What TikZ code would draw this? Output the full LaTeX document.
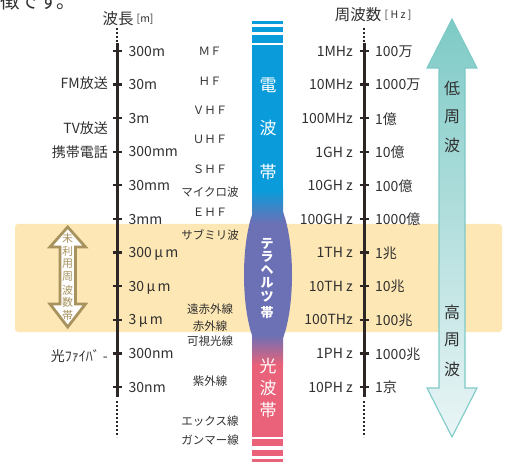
\documentclass[tikz,border=0pt]{standalone}
\usepackage{fontspec}
\setmainfont{Noto Sans CJK JP}
\usetikzlibrary{calc}
\definecolor{txt}{HTML}{303030}
\definecolor{axiscol}{HTML}{2C2624}
\definecolor{wblue}{HTML}{0A9CDA}
\definecolor{wpurple}{HTML}{6C70B5}
\definecolor{wpink}{HTML}{EA6279}
\definecolor{bandcol}{HTML}{FDE7B4}
\definecolor{khaki}{HTML}{A8935E}
\definecolor{tealc}{HTML}{7ECAC6}
\definecolor{tealpale}{HTML}{EAF5F6}
\begin{document}
\begin{tikzpicture}[x=1pt,y=-1pt,
  lab/.style={text=txt, inner sep=0pt, text depth=0pt, font=\fontsize{14}{14}\selectfont},
  bandlab/.style={text=txt, inner sep=0pt, text depth=0pt, font=\fontsize{11.5}{11.5}\selectfont},
  axisline/.style={draw=axiscol, line width=3pt},
  dotline/.style={draw=axiscol, line width=1.2pt, dash pattern=on 2pt off 2pt},
  tickmark/.style={draw=axiscol, line width=2.2pt},
  whitechar/.style={text=white, inner sep=0pt, font=\fontsize{17}{17}\selectfont},
  thzchar/.style={text=white, inner sep=0pt, font=\fontsize{13}{13}\selectfont\bfseries},
  khakichar/.style={text=khaki, inner sep=0pt, font=\fontsize{11}{11}\selectfont},
  darkchar/.style={text=txt, inner sep=0pt, font=\fontsize{16}{16}\selectfont},
  head/.style={text=txt, inner sep=0pt, font=\fontsize{15.5}{15.5}\selectfont},
  unit/.style={text=txt, inner sep=0pt, font=\fontsize{10.5}{10.5}\selectfont}
]
\useasboundingbox (0,0) rectangle (511,462);
\clip (0,0) rectangle (511,462);

% cropped running text at the top
\node[anchor=base west, inner sep=0pt, text=txt, font=\fontsize{19.5}{19.5}\selectfont] (toptext) at (0,8.5) {徴です。};

% unused-band background
\fill[bandcol, rounded corners=3pt] (15,224) rectangle (502,332);

% khaki double arrow
\draw[khaki, line width=2.8pt, fill=white, line join=miter]
  (67.7,227) -- (85.5,247) -- (75.5,247) -- (75.5,304) -- (85.5,304) -- (67.7,327)
  -- (50,304) -- (60,304) -- (60,247) -- (50,247) -- cycle;
\foreach \c/\y [count=\k] in {未/238,利/251,用/264,周/277,波/290,数/302,帯/315}
  \node[khakichar] (kh\k) at (67.7,\y) {\c};

% wavelength axis
\coordinate (wa0) at (117,28); \coordinate (wa1) at (117,42);
\coordinate (wa2) at (117,43); \coordinate (wa3) at (117,397);
\coordinate (wa4) at (117,401); \coordinate (wa5) at (117,437);
\draw[dotline] (wa0) -- (wa1);
\draw[axisline] (wa2) -- (wa3);
\draw[dotline] (wa4) -- (wa5);
% frequency axis
\coordinate (fa0) at (364,28); \coordinate (fa1) at (364,42);
\coordinate (fa2) at (364,43); \coordinate (fa3) at (364,397);
\coordinate (fa4) at (364,401); \coordinate (fa5) at (364,437);
\draw[dotline] (fa0) -- (fa1);
\draw[axisline] (fa2) -- (fa3);
\draw[dotline] (fa4) -- (fa5);

\foreach \wl/\fl/\fr [count=\i from 0] in
  {300m/1MHz/100万, 30m/10MHz/1000万, 3m/100MHz/1億, 300mm/1GH z/10億,
   30mm/10GH z/100億, 3mm/100GH z/1000億, 300\,μ\,m/1TH z/1兆, 30\,μ\,m/10TH z/10兆,
   3\,μ\,m/100THz/100兆, 300nm/1PH z/1000兆, 30nm/10PH z/1京}
{
  \pgfmathsetmacro{\yy}{51+33.6*\i}
  \coordinate (wtl\i) at (112.5,\yy); \coordinate (wtr\i) at (121.5,\yy);
  \coordinate (ftl\i) at (359.5,\yy); \coordinate (ftr\i) at (368.5,\yy);
  \draw[tickmark] (wtl\i) -- (wtr\i);
  \draw[tickmark] (ftl\i) -- (ftr\i);
  \node[lab, anchor=west] (wl\i) at (128.5,\yy) {\wl};
  \node[lab, anchor=east] (fl\i) at (353,\yy) {\fl};
  \node[lab, anchor=west] (fr\i) at (375,\yy) {\fr};
}

% headers
\node[head] (hwl) at (118,19) {波長};
\node[unit, anchor=west] (hwlu) at (136.5,19.5) {[m]};
\node[head] (hfq) at (358,14.5) {周波数};
\node[unit, anchor=west] (hfqu) at (384.5,15) {[ H z ]};

% left labels
\node[lab, anchor=east] (fm) at (108,83) {FM放送};
\node[lab, anchor=east] (tv) at (108,128) {TV放送};
\node[lab, anchor=east] (kt) at (108,152) {携帯電話};
\node[lab, anchor=east] (hf) at (108,356) {光ﾌｧｲﾊﾞ -};

% band names
\foreach \t/\y [count=\k] in {ＭＦ/51, ＨＦ/81, ＶＨＦ/110.5, ＵＨＦ/139.5, ＳＨＦ/169.5, マイクロ波/192,
   ＥＨＦ/212.5, サブミリ波/235, 遠赤外線/309, 赤外線/326, 可視光線/341, 紫外線/381,
   エックス線/421, ガンマー線/440}
  \node[bandlab] (bn\k) at (210,\y) {\t};

% terahertz ellipse (under the bar)
\fill[wpurple] (268,275) ellipse (24 and 81);

% wave bar
\fill[wblue] (252,21) rectangle (283,24);
\fill[wblue] (252,27) rectangle (283,32);
\fill[wblue] (252,35) rectangle (283,43);
\fill[wblue] (252,45) rectangle (283,191);
\shade[top color=wblue, bottom color=wpurple] (252,190) rectangle (283,224);
\fill[wpurple] (252,223) rectangle (283,336);
\shade[top color=wpurple, bottom color=wpink] (252,335) rectangle (283,365);
\fill[wpink] (252,364) rectangle (283,437);
\fill[wpink] (252,439) rectangle (283,446);
\fill[wpink] (252,450) rectangle (283,456);
\fill[wpink] (252,459) rectangle (283,463);

\foreach \c/\y [count=\k] in {電/85, 波/128, 帯/172}
  \node[whitechar] (dp\k) at (268,\y) {\c};
\foreach \c/\y [count=\k] in {光/366, 波/388, 帯/410}
  \node[whitechar] (kp\k) at (268,\y) {\c};
\foreach \c/\y [count=\k] in {テ/244, ラ/257, ヘ/270, ル/283, ツ/297, 帯/313}
  \node[thzchar] (th\k) at (267,\y) {\c};

% frequency direction arrow
\draw[draw=tealc, line width=1.1pt, top color=tealc, bottom color=tealpale, line join=miter]
  (452,19) -- (477,68) -- (465,68) -- (465,388) -- (477,388) -- (452,437)
  -- (427,388) -- (439,388) -- (439,68) -- (427,68) -- cycle;
\foreach \c/\y [count=\k] in {低/88, 周/117, 波/145}
  \node[darkchar] (lo\k) at (452,\y) {\c};
\foreach \c/\y [count=\k] in {高/312, 周/340, 波/369}
  \node[darkchar] (hi\k) at (452,\y) {\c};
\end{tikzpicture}
\end{document}
